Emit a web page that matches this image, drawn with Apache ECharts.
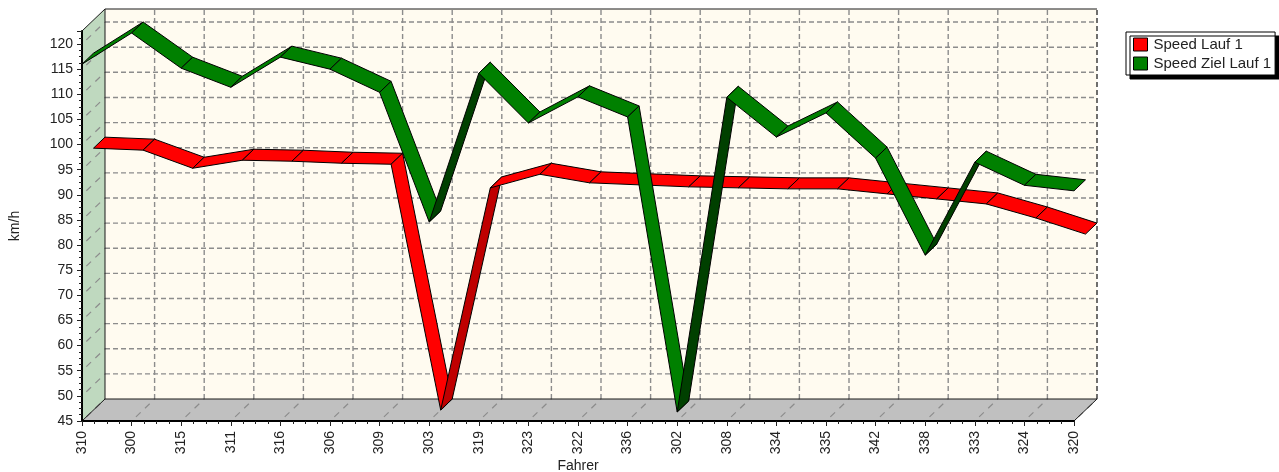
<!DOCTYPE html>
<html>
<head>
<meta charset="utf-8">
<style>
  html, body { margin: 0; padding: 0; background: #fff; }
  #chart { width: 1279px; height: 472px; }
</style>
<script src="https://cdn.jsdelivr.net/npm/echarts@6/dist/echarts.min.js"></script>
</head>
<body>
<div id="chart"></div>
<script>
const fahrer = ['310', '300', '315', '311', '316', '306', '309', '303', '319', '323', '322', '336', '302', '308', '334', '335', '342', '338', '333', '324', '320']
const speedLauf = [97.1, 96.7, 93.1, 94.7, 94.5, 94.1, 93.9, 45.0, 89.2, 91.9, 90.2, 89.8, 89.4, 89.2, 89.0, 89.0, 88.0, 87.0, 86.0, 83.2, 80.0]
const speedZiel = [116.0, 122.2, 115.2, 111.4, 117.4, 115.0, 110.4, 84.6, 114.2, 104.3, 109.5, 105.5, 46.8, 109.4, 101.5, 106.3, 97.3, 78.0, 96.5, 91.9, 90.8]
const yTicks = [45, 50, 55, 60, 65, 70, 75, 80, 85, 90, 95, 100, 105, 110, 115, 120]

const Y_MIN = 45
const Y_MAX = 122.6
// pseudo 3D depth of the chart box in pixels
const DEPTH_X = 23
const DEPTH_Y = -22

const FONT = '"Liberation Sans", Arial, sans-serif'
const GRID_COLOR = '#8c8c8c'

const dashed = (x1, y1, x2, y2, color) => ({
  type: 'line',
  shape: { x1, y1, x2, y2 },
  style: { stroke: color || GRID_COLOR, lineWidth: 1.4, lineDash: [5, 3] }
})

// the slanted depth lines on the side wall and the floor
const slant = (p, q) => ({
  type: 'line',
  shape: { x1: p[0], y1: p[1], x2: q[0], y2: q[1] },
  style: { stroke: GRID_COLOR, lineWidth: 1.2, lineDash: [6.5, 6], lineDashOffset: 6.5 }
})

const solid = (x1, y1, x2, y2) => ({
  type: 'line',
  shape: { x1, y1, x2, y2 },
  style: { stroke: '#1a1a1a', lineWidth: 1 }
})

const renderWalls = (params, api) => {
  const xMax = fahrer.length - 1
  const bl = api.coord([0, Y_MIN])
  const br = api.coord([xMax, Y_MIN])
  const tl = api.coord([0, Y_MAX])
  const tr = api.coord([xMax, Y_MAX])
  const back = p => [p[0] + DEPTH_X, p[1] + DEPTH_Y]
  const children = [
    { type: 'polygon', shape: { points: [back(bl), back(br), back(tr), back(tl)] }, style: { fill: '#fffbf0' } },
    { type: 'polygon', shape: { points: [bl, back(bl), back(tl), tl] }, style: { fill: '#bfd9bf' } },
    { type: 'polygon', shape: { points: [bl, br, back(br), back(bl)] }, style: { fill: '#c0c0c0' } }
  ]
  yTicks.forEach(t => {
    const p = api.coord([0, t])
    const q = api.coord([xMax, t])
    if (t > Y_MIN) children.push(dashed(back(p)[0], back(p)[1], back(q)[0], back(q)[1]))
    children.push(slant(p, back(p)))
  })
  fahrer.forEach((f, i) => {
    const p = api.coord([i, Y_MIN])
    const q = api.coord([i, Y_MAX])
    if (i > 0) children.push(dashed(back(p)[0], back(p)[1], back(q)[0], back(q)[1], i === xMax ? '#333' : GRID_COLOR))
    children.push(slant(p, back(p)))
  })
  children.push(solid(back(tl)[0], back(tl)[1], back(tr)[0], back(tr)[1]))
  children.push(solid(back(tl)[0], back(tl)[1], back(bl)[0], back(bl)[1]))
  children.push(solid(back(bl)[0], back(bl)[1], back(br)[0], back(br)[1]))
  children.push(solid(tl[0], tl[1], back(tl)[0], back(tl)[1]))
  children.push(solid(bl[0], bl[1], back(bl)[0], back(bl)[1]))
  children.push(solid(br[0], br[1], back(br)[0], back(br)[1]))
  return { type: 'group', children }
}

// one ribbon segment between point i and i+1, zFrom/zTo = share of the depth
const ribbon = (values, color, darkColor, zFrom, zTo) => (params, api) => {
  const i = params.dataIndex
  if (i >= values.length - 1) return null
  const a = api.coord([i, values[i]])
  const b = api.coord([i + 1, values[i + 1]])
  const shift = (p, z) => [p[0] + DEPTH_X * z, p[1] + DEPTH_Y * z]
  // the underside is what you see when the line climbs steeper than the depth direction
  const climb = (a[1] - b[1]) / (b[0] - a[0])
  const under = climb > -DEPTH_Y / DEPTH_X
  return {
    type: 'polygon',
    shape: { points: [shift(a, zFrom), shift(b, zFrom), shift(b, zTo), shift(a, zTo)] },
    style: { fill: under ? darkColor : color, stroke: '#000', lineWidth: 1 }
  }
}

const chart = echarts.init(document.getElementById('chart'))
chart.setOption({
  animation: false,
  textStyle: { fontFamily: FONT },
  grid: { left: 82, right: 205, top: 31, bottom: 51, outerBoundsMode: 'none' },
  legend: {
    orient: 'vertical',
    left: 1126,
    top: 32,
    padding: [5, 4, 4, 7],
    itemWidth: 14,
    itemHeight: 13,
    itemGap: 4,
    icon: 'rect',
    backgroundColor: '#fff',
    borderColor: '#000',
    borderWidth: 1,
    shadowColor: '#000',
    shadowBlur: 0,
    shadowOffsetX: 4,
    shadowOffsetY: 4,
    itemStyle: { borderColor: '#000', borderWidth: 1 },
    textStyle: { color: '#222', fontSize: 15, lineHeight: 13, padding: [0, 0, 0, 1] },
    data: ['Speed Lauf 1', 'Speed Ziel Lauf 1']
  },
  xAxis: {
    type: 'value',
    min: 0,
    max: fahrer.length - 1,
    interval: 1,
    z: 2,
    name: 'Fahrer',
    nameLocation: 'middle',
    nameGap: 38,
    nameMoveOverlap: false,
    nameTextStyle: { color: '#222', fontSize: 14 },
    axisLine: { onZero: false, lineStyle: { color: '#000', width: 2 } },
    axisTick: { length: 5, lineStyle: { color: '#222' } },
    minorTick: { show: true, splitNumber: 4, length: 3, lineStyle: { color: '#222' } },
    axisLabel: { color: '#222', fontSize: 14, rotate: 90, margin: 10, formatter: v => fahrer[v] },
    splitLine: { show: false }
  },
  yAxis: {
    type: 'value',
    min: Y_MIN,
    max: Y_MAX,
    interval: 5,
    z: 2,
    name: 'km/h',
    nameLocation: 'middle',
    nameGap: 60,
    nameMoveOverlap: false,
    nameTextStyle: { color: '#222', fontSize: 14 },
    axisLine: { show: true, lineStyle: { color: '#000', width: 2 } },
    axisTick: { show: true, length: 5, lineStyle: { color: '#222' } },
    minorTick: { show: true, splitNumber: 4, length: 3, lineStyle: { color: '#222' } },
    axisLabel: { color: '#222', fontSize: 14, margin: 9, showMaxLabel: false },
    splitLine: { show: false }
  },
  series: [
    {
      type: 'custom',
      name: 'walls',
      z: 1,
      silent: true,
      data: [[0, Y_MIN]],
      encode: { x: 0, y: 1 },
      renderItem: renderWalls
    },
    {
      type: 'custom',
      name: 'Speed Lauf 1',
      z: 3,
      itemStyle: { color: '#ff0000' },
      data: speedLauf.map((v, i) => [i, v]),
      encode: { x: 0, y: 1 },
      renderItem: ribbon(speedLauf, '#ff0000', '#bf0000', 0.5, 1)
    },
    {
      type: 'custom',
      name: 'Speed Ziel Lauf 1',
      z: 4,
      itemStyle: { color: '#008000' },
      data: speedZiel.map((v, i) => [i, v]),
      encode: { x: 0, y: 1 },
      renderItem: ribbon(speedZiel, '#008000', '#004000', 0, 0.5)
    }
  ]
})
</script>
</body>
</html>
